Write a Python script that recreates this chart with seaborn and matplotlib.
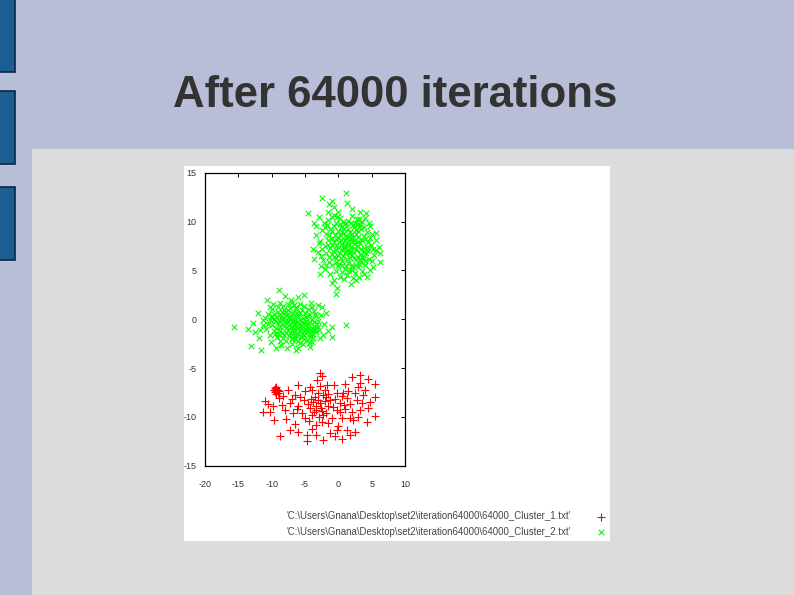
import matplotlib
matplotlib.use("Agg")
import matplotlib.pyplot as plt
from matplotlib.patches import Rectangle
import numpy as np
import pandas as pd
import seaborn as sns

# ---------------- data ----------------
title = "After 64000 iterations"
label_1 = "'C:\\Users\\Gnana\\Desktop\\set2\\iteration64000\\64000_Cluster_1.txt'"
label_2 = "'C:\\Users\\Gnana\\Desktop\\set2\\iteration64000\\64000_Cluster_2.txt'"
x_ticks = [-20, -15, -10, -5, 0, 5, 10]
y_ticks = [-15, -10, -5, 0, 5, 10, 15]

# Cluster 1 (red, "+")
c1_pts = [
    (-2.7, -5.5), (-2.5, -5.8), (2.0, -5.9), (3.2, -5.7), (4.5, -6.1), (5.5, -6.6), (3.3, -6.5),
    (-6.0, -6.7), (-4.2, -6.9), (-2.7, -6.8), (-1.7, -6.7), (-0.7, -6.7),
    (-9.5, -7.0), (-9.3, -7.1), (-9.6, -7.2), (-9.2, -7.3), (-9.4, -7.4), (-9.0, -7.2), (-9.5, -7.5),
    (-9.3, -6.9), (-9.1, -7.6), (-9.7, -7.3), (-8.9, -7.4), (-9.4, -7.7),
    (-8.9, -8.1), (-11.0, -8.4), (-11.3, -9.5), (-10.2, -9.5), (-9.7, -10.3), (-8.5, -8.8), (-7.3, -8.6),
    (-6.5, -7.8), (-5.0, -7.4), (-5.2, -8.3), (-6.0, -8.9), (-6.8, -9.6), (-6.5, -10.7), (-7.3, -11.3),
    (-8.8, -12.0), (-4.75, -11.9), (-3.3, -11.9), (-4.75, -12.5), (-2.25, -12.4), (-0.5, -12.0),
    (1.25, -11.3), (2.5, -11.5), (1.75, -11.9),
    (-3.3, -9.3), (-2.25, -9.8), (-1.0, -10.1), (0.25, -8.6), (0.75, -7.6), (-0.25, -7.6), (1.5, -7.4),
    (2.5, -7.6), (3.75, -7.8), (2.75, -8.3), (3.25, -9.3), (4.5, -9.1), (5.5, -9.9), (4.25, -10.5),
    (1.75, -10.1), (2.25, -10.3), (0.5, -10.1), (-0.25, -9.3), (-1.5, -8.9), (-4.25, -9.1), (-4.0, -9.8),
    (-5.5, -9.6), (-3.3, -10.8), (-2.5, -10.5), (-4.0, -11.2), (-0.2, -11.3), (-9.8, -8.9), (-8.0, -9.3),
    (5.5, -8.0),
    (-3.5, -8.0), (-3.1, -8.3), (-2.8, -8.6), (-3.4, -8.9), (-2.6, -9.1), (-2.0, -8.4), (-1.8, -8.0),
    (-2.3, -7.8), (-3.8, -8.5), (-4.1, -8.2), (-3.0, -7.6), (-2.4, -9.4), (-1.2, -8.3), (-0.8, -9.0),
    (-1.5, -7.7), (-4.6, -8.7), (-3.6, -9.5), (-2.9, -10.0), (-1.9, -9.6), (-0.5, -8.2), (0.2, -9.5),
    (0.9, -8.8), (1.3, -8.1), (1.0, -9.2), (1.8, -8.7), (2.1, -9.5), (0.5, -7.9), (-5.8, -8.0),
    (-6.2, -9.2), (-7.0, -8.2), (-5.0, -10.1), (-4.4, -10.4), (-1.6, -10.6), (0.0, -10.9), (3.0, -10.0),
    (3.6, -8.6), (4.0, -7.3), (2.9, -6.9), (1.0, -6.6), (-3.2, -6.2), (-7.8, -10.2), (-8.3, -7.9),
    (-7.6, -7.2), (-10.5, -8.7), (-6.1, -11.6), (-1.2, -11.7), (0.6, -12.3), (4.8, -8.5), (-2.0, -7.2),
    (-3.9, -7.3),
]

# Cluster 2 (green, "x"): upper-right blob and middle-left blob
c2_pts = [
    # upper blob
    (-4.6, 10.9), (-2.4, 12.4), (-0.9, 12.1), (-0.6, 11.5), (1.1, 12.9), (-1.6, 11.0), (4.1, 10.9),
    (3.1, 10.3), (-3.4, 9.5), (-2.9, 7.8), (-3.6, 6.2), (-2.6, 5.4), (6.1, 7.4), (6.3, 5.9), (5.6, 8.1),
    (-0.9, 3.7), (-0.4, 2.6), (-0.6, 4.0), (3.1, 4.3), (2.1, 5.0), (4.8, 9.5), (3.8, 6.4),
    (-1.5, 10.2), (0.3, 10.4), (1.5, 10.1), (2.8, 10.3), (-0.4, 9.9), (3.6, 10.0), (-2.2, 9.8), (1.0, 9.7),
    (2.2, 9.6),
    (-2.5, 9.1), (-1.2, 9.2), (-0.1, 9.0), (0.8, 9.3), (1.7, 8.9), (2.6, 9.1), (3.4, 9.2), (4.3, 8.9),
    (-1.8, 8.7), (0.3, 8.6), (1.2, 8.5), (2.1, 8.7), (3.0, 8.4), (3.9, 8.5), (5.0, 8.7),
    (-2.8, 8.0), (-1.6, 8.1), (-0.6, 7.9), (0.4, 8.1), (1.4, 7.8), (2.4, 8.0), (3.3, 7.8), (4.4, 7.9),
    (-2.0, 7.5), (-1.0, 7.6), (0.0, 7.4), (0.9, 7.6), (1.9, 7.4), (2.9, 7.5), (3.8, 7.3), (4.9, 7.6),
    (5.6, 7.1),
    (-3.0, 6.9), (-1.9, 6.8), (-0.8, 7.0), (0.2, 6.8), (1.2, 7.0), (2.2, 6.9), (3.2, 6.7), (4.2, 6.8),
    (-1.4, 6.4), (-0.3, 6.3), (0.7, 6.5), (1.7, 6.3), (2.6, 6.2), (3.6, 6.4), (4.6, 6.2), (-2.3, 6.1),
    (-1.8, 5.6), (-0.9, 5.5), (0.1, 5.7), (1.1, 5.4), (2.1, 5.6), (3.0, 5.3), (4.0, 5.5), (-0.4, 4.9),
    (0.6, 4.8), (1.6, 4.9), (2.5, 4.7), (3.5, 4.9), (5.2, 5.3),
    (-3.3, 8.6), (-2.9, 10.5), (0.0, 11.0), (2.0, 11.3), (3.3, 11.0), (4.6, 9.8), (5.7, 8.8), (6.3, 6.8),
    (5.0, 6.0), (4.3, 4.3), (-2.8, 4.6), (-3.8, 7.2), (0.9, 4.1), (1.9, 3.6), (-0.2, 3.2), (2.7, 4.0),
    (-0.7, 10.7), (1.3, 11.9), (-1.4, 11.8), (-3.6, 9.9),
    (0.5, 7.2), (1.5, 7.1), (1.0, 8.1), (2.0, 8.3), (0.0, 8.3), (1.6, 6.8), (0.6, 6.0), (2.3, 7.7),
    (-0.5, 8.6), (3.0, 9.7),
    (-1.0, 10.5), (0.7, 10.0), (2.1, 10.6), (3.2, 9.6), (-2.0, 9.4), (-0.6, 9.5), (0.4, 9.4), (1.4, 9.2),
    (2.4, 9.4), (3.8, 9.4), (-1.4, 8.6), (-0.3, 8.2), (0.8, 8.8), (1.7, 8.2), (2.7, 8.7), (3.6, 8.1),
    (4.7, 8.3), (-2.4, 7.2), (-1.3, 7.3), (-0.4, 7.5), (0.5, 7.7), (1.5, 7.5), (2.4, 7.3), (3.4, 7.2),
    (4.3, 7.4), (5.2, 7.2), (-2.6, 6.5), (-1.0, 6.7), (0.0, 6.6), (1.0, 6.8), (2.0, 6.6), (2.9, 6.4),
    (4.0, 6.0), (5.3, 6.6), (-1.4, 5.9), (-0.4, 5.9), (0.6, 5.6), (1.5, 5.8), (2.6, 5.5), (3.4, 5.9),
    (4.7, 5.0), (-1.2, 4.6), (0.2, 4.3), (1.3, 4.5), (2.2, 4.2), (3.8, 4.6), (-2.0, 5.1), (4.0, 10.4),
    (-0.2, 10.5), (1.9, 9.9),
    (0.2, 9.7), (1.2, 9.9), (2.5, 9.9), (-0.9, 9.0), (0.6, 8.9), (1.9, 8.6), (2.9, 9.0), (-1.0, 8.3),
    (0.1, 7.9), (1.1, 8.3), (2.1, 8.0), (3.0, 7.9), (4.0, 8.2), (-1.6, 7.6), (-0.3, 7.1), (0.9, 7.3),
    (1.8, 7.0), (2.8, 7.1), (3.9, 6.9), (-0.7, 6.4), (0.4, 6.3), (1.3, 6.2), (2.3, 6.3), (3.2, 6.1),
    (-0.1, 5.4), (1.0, 5.1), (2.0, 5.3), (3.1, 5.7), (4.5, 7.0), (-1.7, 9.6),
    # middle-left blob
    (-15.6, -0.8), (-13.1, -2.7), (-11.6, -3.2), (-12.8, -0.4), (-8.9, 3.0), (-7.1, 2.0), (-5.1, 2.5),
    (-6.4, -3.2), (-2.4, 1.3), (-0.9, -0.8), (1.1, -0.6), (-0.9, -1.8), (-10.3, 1.3), (-11.3, -0.1),
    (-11.8, -1.1), (-3.9, -2.3), (-2.9, -1.1),
    (-10.0, 1.0), (-9.1, 1.2), (-8.2, 0.9), (-7.3, 1.1), (-6.4, 1.3), (-5.5, 0.9), (-4.6, 1.0),
    (-3.7, 0.8), (-8.7, 1.7), (-6.9, 1.8), (-5.8, 1.6), (-9.6, 0.5), (-7.8, 0.4),
    (-11.0, 0.1), (-10.3, -0.1), (-9.4, 0.2), (-8.5, 0.0), (-7.6, -0.2), (-6.7, 0.1), (-5.8, -0.1),
    (-4.9, 0.2), (-4.0, 0.0), (-3.1, -0.2), (-2.6, 0.4), (-9.9, -0.6), (-9.0, -0.4), (-8.1, -0.7),
    (-7.2, -0.5), (-6.3, -0.8), (-5.4, -0.6), (-4.5, -0.9), (-3.6, -0.7), (-2.1, -0.5),
    (-10.8, -1.0), (-9.7, -1.2), (-8.8, -1.1), (-7.9, -1.3), (-7.0, -1.1), (-6.1, -1.4), (-5.2, -1.2),
    (-4.3, -1.5), (-3.4, -1.3), (-2.3, -1.6), (-9.2, -1.8), (-8.3, -1.9), (-7.4, -1.7), (-6.5, -2.0),
    (-5.6, -1.8), (-4.7, -2.1), (-3.8, -1.9),
    (-10.1, -2.3), (-8.6, -2.6), (-7.0, -2.5), (-5.3, -2.5), (-4.2, -2.8), (-6.1, -2.9), (-11.9, -1.9),
    (-12.5, -1.3), (-13.6, -1.0), (-12.0, 0.6), (-10.7, 2.0), (-8.0, 2.4), (-6.0, 2.3), (-4.1, 1.7),
    (-3.0, 1.5), (-1.8, 0.6), (-1.5, -1.2), (-9.3, -2.9), (-7.7, -3.0),
    (-7.0, -0.3), (-6.5, -0.4), (-5.5, -0.3), (-5.0, -1.0), (-6.0, -0.9), (-7.5, 0.5), (-8.0, -0.2),
    (-4.8, -0.5), (-5.2, -1.6), (-6.8, -1.5), (-8.5, 0.7), (-6.2, 0.6), (-4.4, 0.5), (-3.5, -1.1),
    (-9.5, -0.2), (-8.8, 0.4), (-8.0, 0.7), (-7.0, 0.6), (-6.0, 0.3), (-5.0, 0.6), (-4.2, -0.3),
    (-3.3, 0.3), (-9.3, -0.9), (-8.5, -0.5), (-7.7, -0.8), (-6.8, -0.8), (-5.9, -0.5), (-4.9, -0.2),
    (-4.0, -1.1), (-3.0, -0.8), (-10.2, -1.6), (-9.5, -1.5), (-8.5, -1.4), (-7.5, -1.1), (-6.6, -1.2),
    (-5.7, -1.1), (-4.8, -1.4), (-3.9, -1.5), (-2.8, -1.9), (-8.8, -2.2), (-7.9, -2.2), (-7.0, -2.0),
    (-6.0, -2.2), (-5.1, -2.0), (-4.4, -2.4), (-9.8, 1.6), (-8.3, 1.4), (-7.6, 1.6), (-6.6, 1.5),
    (-5.1, 1.4), (-4.0, 1.2), (-10.6, 0.5), (-11.3, -0.6), (-10.5, -0.5), (-6.6, -0.2), (-7.4, 0.2),
    (-5.3, 0.1), (-6.2, -1.7), (-3.2, -0.5), (-8.3, -0.1),
    (-9.0, 0.7), (-8.4, 0.3), (-7.6, 0.9), (-6.8, 0.5), (-5.8, 0.6), (-4.6, 0.3), (-3.7, -0.3),
    (-9.7, 0.0), (-8.9, -0.1), (-7.3, -0.1), (-6.2, -0.3), (-5.1, -0.4), (-4.4, -0.6), (-8.7, -0.8),
    (-7.9, -0.4), (-7.1, -0.8), (-5.6, -0.9), (-4.6, -1.2), (-3.7, -1.0), (-9.0, -1.5), (-8.1, -1.6),
    (-7.2, -1.4), (-6.4, -1.6), (-5.4, -1.5), (-4.3, -1.8), (-6.9, -1.9), (-5.8, -2.4), (-9.9, 0.3),
    (-3.5, 0.5), (-6.3, 1.0),
]

c1_x = [p[0] for p in c1_pts]
c1_y = [p[1] for p in c1_pts]
c2_x = [p[0] for p in c2_pts]
c2_y = [p[1] for p in c2_pts]

# ---------------- figure ----------------
sns.set_style("white")
plt.rcParams["font.family"] = ["Liberation Sans", "DejaVu Sans"]
plt.rcParams["axes.unicode_minus"] = False

W, H = 794, 595
fig = plt.figure(figsize=(W / 100, H / 100), dpi=100, facecolor="#B9BED8")


def px_rect(x0, y0, x1, y1, **kw):
    r = Rectangle((x0 / W, 1 - y1 / H), (x1 - x0) / W, (y1 - y0) / H,
                  transform=fig.transFigure, zorder=-5, **kw)
    fig.patches.append(r)


# slide decorations
px_rect(32, 149, 794, 595, facecolor="#DCDCDC", edgecolor="none")
for (a, b) in [(-2, 72), (91, 164), (187, 260)]:
    px_rect(-1, a, 15, b, facecolor="#1A5E94", edgecolor="#0E2440", linewidth=1.2)
px_rect(184, 166, 610, 541, facecolor="white", edgecolor="none")

fig.text(395 / W, 1 - 107 / H, title, ha="center", va="baseline",
         fontsize=31.5, fontweight="bold", color="#333333")

# plot axes
ax = fig.add_axes([205 / W, 1 - 465.7 / H, 200 / W, 293 / H])
ax.set_zorder(2)
ax.set_facecolor("white")

d1 = pd.DataFrame({"x": c1_x, "y": c1_y})
d2 = pd.DataFrame({"x": c2_x, "y": c2_y})
sns.scatterplot(data=d1, x="x", y="y", ax=ax, marker="+", color="#FF0000",
                s=40, linewidth=0.8, label=label_1, legend=False)
sns.scatterplot(data=d2, x="x", y="y", ax=ax, marker="x", color="#00FF00",
                s=16, linewidth=0.8, label=label_2, legend=False)

ax.set_xlim(-20, 10)
ax.set_ylim(-15, 15)
ax.set_xticks(x_ticks)
ax.set_yticks(y_ticks)
ax.set_xlabel("")
ax.set_ylabel("")
ax.tick_params(direction="in", length=3, width=0.7, top=True, right=True,
               labelsize=6.5, labelcolor="#333333", color="black")
ax.tick_params(axis="x", pad=10)
ax.tick_params(axis="y", pad=6)
for s in ax.spines.values():
    s.set_color("black")
    s.set_linewidth(0.9)
    s.set_visible(True)

ax.legend(loc="center right", bbox_to_anchor=(611 / W, 1 - 524 / H),
          bbox_transform=fig.transFigure, frameon=False, markerfirst=False,
          fontsize=6.9, labelcolor="#444444", handlelength=2.0, handletextpad=2.2,
          borderpad=0, borderaxespad=0, labelspacing=0.55)

fig.savefig("out.png", dpi=100, facecolor=fig.get_facecolor())
